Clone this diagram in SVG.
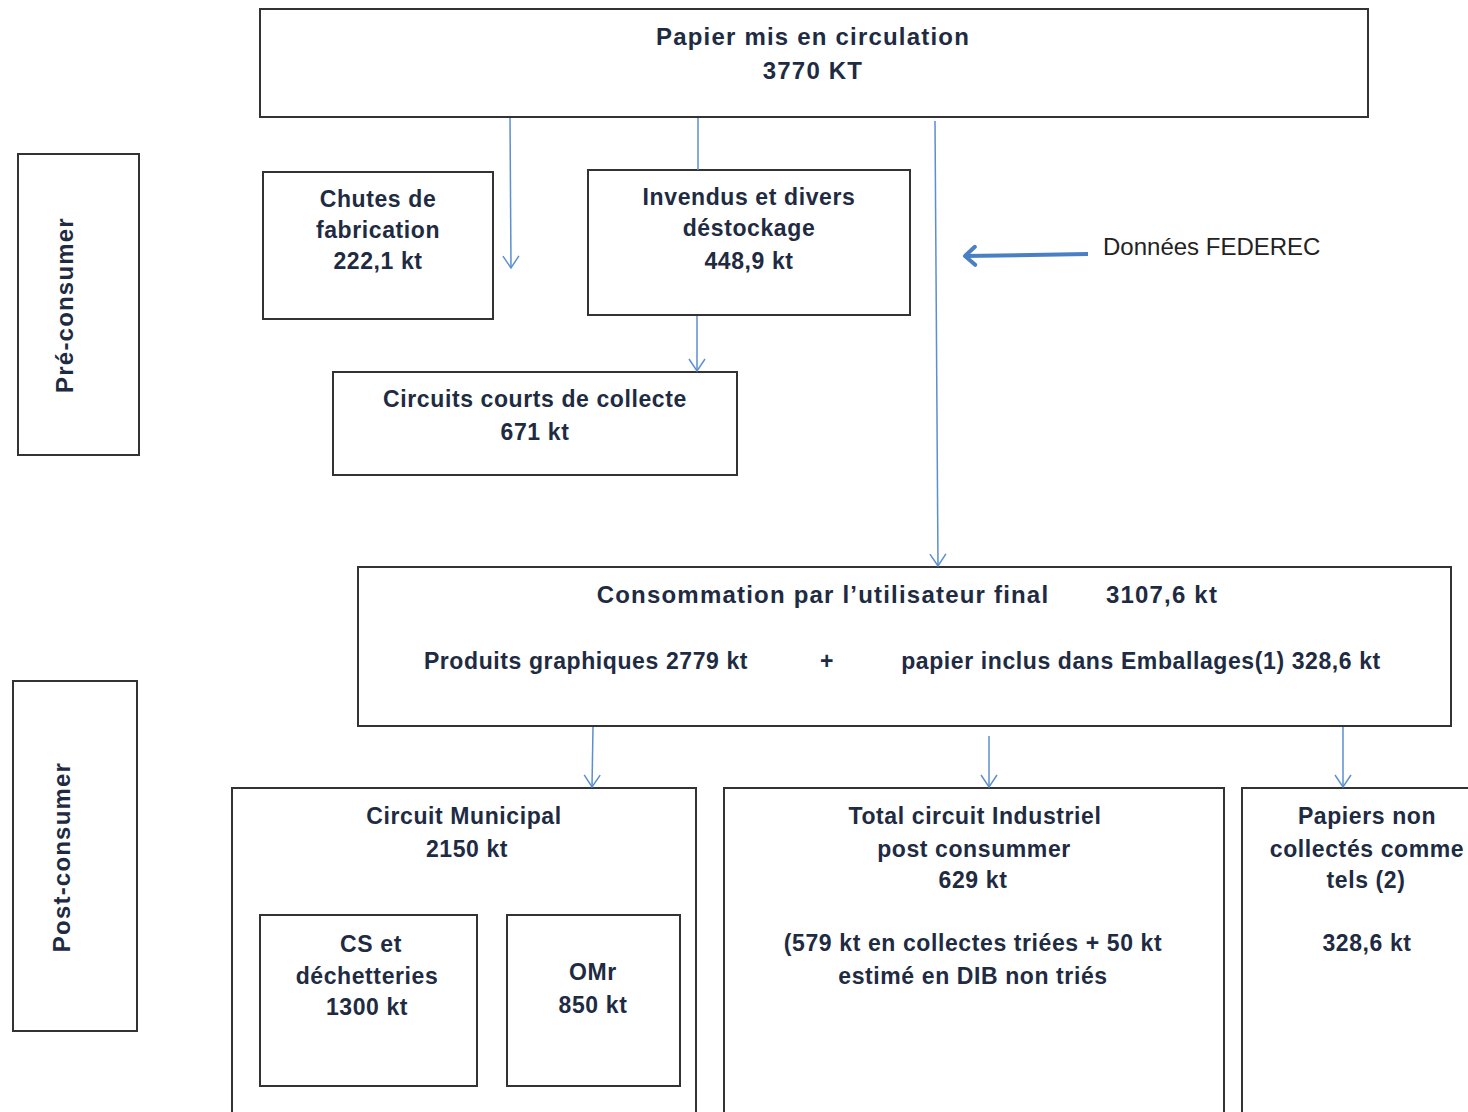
<svg xmlns="http://www.w3.org/2000/svg" width="1468" height="1112" viewBox="0 0 1468 1112">
<defs>
<marker id="ah" viewBox="0 0 20 20" refX="18" refY="10" markerWidth="20" markerHeight="20" markerUnits="userSpaceOnUse" orient="auto">
<path d="M6,2 L18,10 L6,18" fill="none" stroke="#5b8fd0" stroke-width="1.5"/>
</marker>
<marker id="ah2" viewBox="0 0 30 30" refX="27" refY="15" markerWidth="30" markerHeight="30" markerUnits="userSpaceOnUse" orient="auto">
<path d="M17,6 L27,15 L17,24" fill="none" stroke="#4a7fc4" stroke-width="4" stroke-linecap="round" stroke-linejoin="round"/>
</marker>
</defs>
<style>
.box{fill:#fff;stroke:#333;stroke-width:2}
.t{font-family:"Liberation Sans",Arial,sans-serif;font-weight:bold;fill:#1e2b42;font-size:23px;letter-spacing:0.6px;text-anchor:middle}
.big{font-size:24px;letter-spacing:1.2px}
.c{stroke:#5b8fd0;stroke-width:1.5;fill:none}
</style>
<rect width="1468" height="1112" fill="#fff"/>
<g id="top"><rect class="box" x="260" y="9" width="1108" height="108"/>
<text class="t big" x="813" y="45">Papier mis en circulation</text>
<text class="t big" x="813" y="79">3770 KT</text></g>
<g id="pre"><rect class="box" x="18" y="154" width="121" height="301"/>
<text class="t big" transform="translate(73,305) rotate(-90)">Pré-consumer</text></g>
<g id="chutes"><rect class="box" x="263" y="172" width="230" height="147"/>
<text class="t" x="378" y="207">Chutes de</text>
<text class="t" x="378" y="238">fabrication</text>
<text class="t" x="378" y="269">222,1 kt</text></g>
<g id="invendus"><rect class="box" x="588" y="170" width="322" height="145"/>
<text class="t" x="749" y="205">Invendus  et divers</text>
<text class="t" x="749" y="236">déstockage</text>
<text class="t" x="749" y="269">448,9 kt</text></g>
<g id="courts"><rect class="box" x="333" y="372" width="404" height="103"/>
<text class="t" x="535" y="407">Circuits courts de collecte</text>
<text class="t" x="535" y="440">671 kt</text></g>
<g id="federec"><text x="1103" y="255" font-family="Liberation Sans,Arial,sans-serif" font-size="24" fill="#222">Données FEDEREC</text></g>
<g id="conso"><rect class="box" x="358" y="567" width="1093" height="159"/>
<text class="t big" x="823" y="603">Consommation par l’utilisateur final</text>
<text class="t big" x="1162" y="603">3107,6 kt</text>
<text class="t" x="586" y="669">Produits graphiques  2779 kt</text>
<text class="t" x="827" y="669">+</text>
<text class="t" x="1141" y="669">papier inclus dans Emballages(1)  328,6 kt</text></g>
<g id="post"><rect class="box" x="13" y="681" width="124" height="350"/>
<text class="t big" transform="translate(70,857) rotate(-90)">Post-consumer</text></g>
<g id="municipal"><rect class="box" x="232" y="788" width="464" height="340"/>
<text class="t" x="464" y="824">Circuit Municipal</text>
<text class="t" x="467" y="857">2150 kt</text></g>
<g id="cs"><rect class="box" x="260" y="915" width="217" height="171"/>
<text class="t" x="371" y="952">CS et</text>
<text class="t" x="367" y="984">déchetteries</text>
<text class="t" x="367" y="1015">1300 kt</text></g>
<g id="omr"><rect class="box" x="507" y="915" width="173" height="171"/>
<text class="t" x="593" y="980">OMr</text>
<text class="t" x="593" y="1013">850 kt</text></g>
<g id="industriel"><rect class="box" x="724" y="788" width="500" height="340"/>
<text class="t" x="975" y="824">Total circuit Industriel</text>
<text class="t" x="974" y="857">post consummer</text>
<text class="t" x="973" y="888">629 kt</text>
<text class="t" x="973" y="951">(579 kt en collectes triées + 50 kt</text>
<text class="t" x="973" y="984">estimé en DIB non triés</text></g>
<g id="noncollectes"><rect class="box" x="1242" y="788" width="260" height="340"/>
<text class="t" x="1367" y="824">Papiers non</text>
<text class="t" x="1367" y="857">collectés comme</text>
<text class="t" x="1366" y="888">tels (2)</text>
<text class="t" x="1367" y="951">328,6 kt</text></g>
<g id="connectors">
<line class="c" x1="510" y1="118" x2="511" y2="268" marker-end="url(#ah)"/>
<line class="c" x1="698" y1="118" x2="698" y2="170"/>
<line class="c" x1="697" y1="316" x2="697" y2="371" marker-end="url(#ah)"/>
<line class="c" x1="935" y1="121" x2="938" y2="566" marker-end="url(#ah)"/>
<line x1="1088" y1="254" x2="965" y2="256" stroke="#4a7fc4" stroke-width="4" marker-end="url(#ah2)"/>
<line class="c" x1="593" y1="727" x2="592" y2="787" marker-end="url(#ah)"/>
<line class="c" x1="989" y1="736" x2="989" y2="787" marker-end="url(#ah)"/>
<line class="c" x1="1343" y1="727" x2="1343" y2="787" marker-end="url(#ah)"/>
</g>
</svg>
